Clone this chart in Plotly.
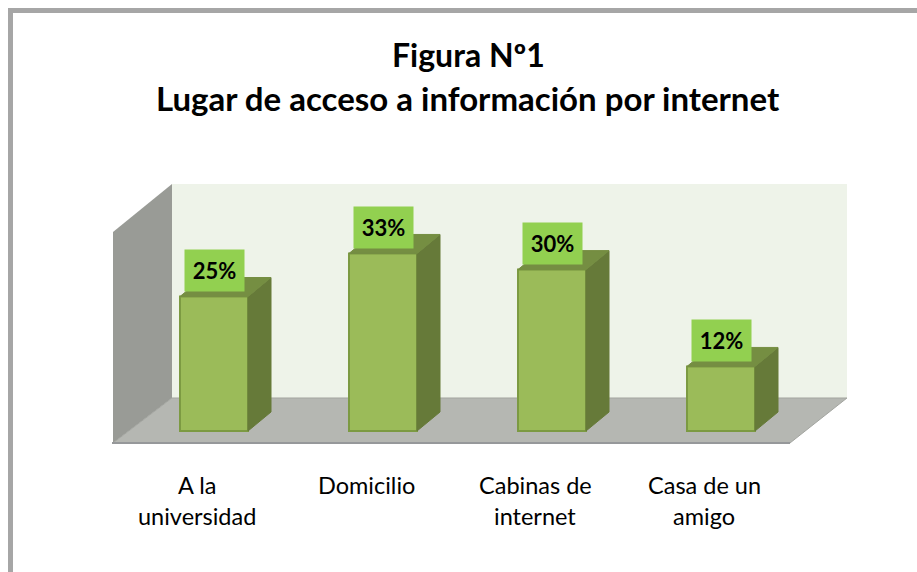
import plotly.graph_objects as go

title_lines = ["Figura Nº1", "Lugar de acceso a información por internet"]
categories = [["A la", "universidad"], ["Domicilio"], ["Cabinas de", "internet"], ["Casa de un", "amigo"]]
values = [25, 33, 30, 12]
value_labels = ["25%", "33%", "30%", "12%"]

W, H = 917, 572
FONT = "Lato"

# pixels per unit, the axes fill the whole figure
x0, x_step = 214.0, 169.0
y0, y_step = 431.0, 5.38
bar_w = 68 / x_step
dx = 23 / x_step
dy = 19 / y_step


def paper_path(pts, close=True):
    d = "M" + " L".join(f"{x / W:.5f},{1 - y / H:.5f}" for x, y in pts)
    return d + (" Z" if close else "")


fig = go.Figure()

xs = list(range(len(values)))

for i, v in zip(xs, values):
    left, right = i - bar_w / 2, i + bar_w / 2
    # side face
    fig.add_trace(go.Scatter(
        x=[right, right + dx, right + dx, right, right],
        y=[0, dy, v + dy, v, 0],
        mode="lines", fill="toself", fillcolor="#667A39",
        line=dict(color="#667A39", width=1), hoverinfo="skip", showlegend=False))
    # top face
    fig.add_trace(go.Scatter(
        x=[left, left + dx, right + dx, right, left],
        y=[v, v + dy, v + dy, v, v],
        mode="lines", fill="toself", fillcolor="#758E42",
        line=dict(color="#758E42", width=1), hoverinfo="skip", showlegend=False))

fig.add_trace(go.Bar(
    x=xs, y=values, width=bar_w,
    marker=dict(color="#9BBB59", line=dict(color="#7C9A42", width=2)),
    showlegend=False))

shapes = [
    # back wall, side wall, floor
    dict(type="path", path=paper_path([(172, 184), (847, 184), (847, 398), (172, 398)]),
         fillcolor="#EEF3E9", line_width=0, layer="below"),
    dict(type="path", path=paper_path([(113, 232), (172, 184), (172, 398), (113, 443)]),
         fillcolor="#999B96", line_width=0, layer="below"),
    dict(type="path", path=paper_path([(113, 443), (172, 398), (847, 398), (790, 443)]),
         fillcolor="#B5B7B2", line=dict(color="#A3A5A0", width=1), layer="below"),
    # darker front edge of the floor
    dict(type="path", path=paper_path([(112, 443), (790, 443)], close=False),
         line=dict(color="#96989A", width=2), layer="below"),
    # outer frame, open on the right and at the bottom
    dict(type="path", path=paper_path([(10.5, 572), (10.5, 10.5), (917, 10.5)], close=False),
         line=dict(color="#A6A6A6", width=5), layer="below"),
]
for s in shapes:
    s.update(xref="paper", yref="paper")

annotations = []
for i, (v, lab) in enumerate(zip(values, value_labels)):
    annotations.append(dict(
        x=i, y=v, xref="x", yref="y", text=f"<b>{lab}</b>", showarrow=False,
        xanchor="center", yanchor="middle", yshift=26, width=59, height=41, borderpad=0,
        bgcolor="#92D050", align="center", valign="middle",
        font=dict(family=FONT, size=22, color="black")))

label_centers = [197, 366, 535, 704]
for cx, lines in zip(label_centers, categories):
    for n, line in enumerate(lines):
        annotations.append(dict(
            x=cx / W, y=1 - (485 + n * 31) / H, xref="paper", yref="paper", text=line,
            xanchor="center", yanchor="middle", showarrow=False,
            font=dict(family=FONT, size=23.5, color="black")))

for y, line, size in zip([55, 98], title_lines, [32, 33]):
    annotations.append(dict(
        x=468 / W, y=1 - y / H, xref="paper", yref="paper", text=f"<b>{line}</b>",
        xanchor="center", yanchor="middle", showarrow=False,
        font=dict(family=FONT, size=size, color="black")))

fig.update_layout(
    width=W, height=H,
    margin=dict(l=0, r=0, t=0, b=0),
    paper_bgcolor="white", plot_bgcolor="rgba(0,0,0,0)",
    font_family=FONT,
    xaxis=dict(visible=False, range=[-x0 / x_step, (W - x0) / x_step]),
    yaxis=dict(visible=False, range=[(y0 - H) / y_step, y0 / y_step]),
    shapes=shapes, annotations=annotations,
)

fig.write_html("out.html", config=dict(displayModeBar=False),
               post_script="document.body.style.margin='0';")
